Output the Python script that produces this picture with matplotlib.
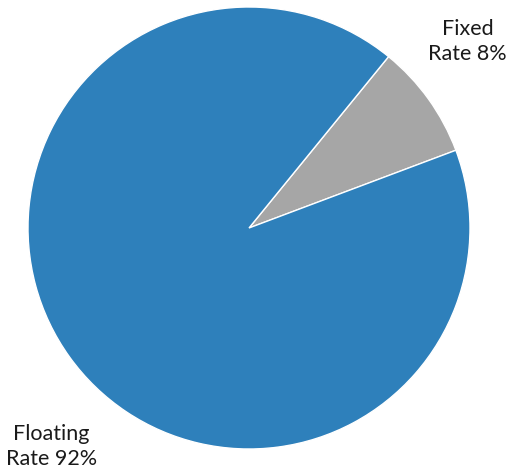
import matplotlib
matplotlib.use('Agg')
import matplotlib.pyplot as plt

labels = ['Fixed\nRate 8%', 'Floating\nRate 92%']
shares = [8.4, 91.6]
colors = ['#A6A6A6', '#2E80BB']

# where the two labels sit, in pie units (radius = 1)
label_pos = [(0.99, 0.845), (-0.895, -0.99)]

plt.rcParams['font.family'] = ['Lato', 'DejaVu Sans']

fig = plt.figure(figsize=(5.11, 4.70), dpi=100)
ax = fig.add_axes([28 / 511, 21 / 470, 442 / 511, 442 / 470])

ax.pie(shares, colors=colors, startangle=20.6, counterclock=True,
       wedgeprops=dict(edgecolor='white', linewidth=1))

for lab, (x, y) in zip(labels, label_pos):
    ax.text(x, y, lab, ha='center', va='center', fontsize=15.5,
            linespacing=1.3, color='#1a1a1a')

ax.set_xlim(-1, 1)
ax.set_ylim(-1, 1)
ax.set_aspect('equal')
ax.axis('off')

fig.savefig('out.png', dpi=100)
